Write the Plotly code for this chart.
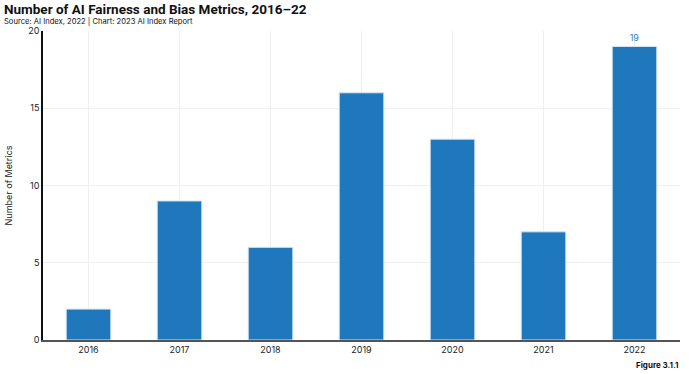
import plotly.graph_objects as go

years = ["2016", "2017", "2018", "2019", "2020", "2021", "2022"]
metrics = [2, 9, 6, 16, 13, 7, 19]
labels = ["", "", "", "", "", "", "19"]

FONT = "Inter, Roboto, sans-serif"

fig = go.Figure()
fig.add_trace(go.Bar(
    x=years, y=metrics, width=0.49,
    marker=dict(color="#1f77bc", line=dict(color="#d6e6f3", width=1)),
    text=labels, textposition="outside", cliponaxis=False,
    textfont=dict(color="#3b7bc4", size=9, family=FONT),
))

fig.update_layout(
    width=689, height=374,
    margin=dict(l=43, r=9, t=31, b=34),
    paper_bgcolor="white", plot_bgcolor="white",
    showlegend=False,
    font=dict(family=FONT, size=9, color="#222"),
    xaxis=dict(
        type="category", showgrid=True, gridcolor="#efefef", gridwidth=1,
        showline=True, linecolor="#555", linewidth=1.5,
        ticks="", tickfont=dict(size=9, color="#222"),
    ),
    yaxis=dict(
        range=[0, 20], dtick=5, showgrid=True, gridcolor="#efefef", gridwidth=1,
        showline=True, linecolor="#111", linewidth=1.5, zeroline=False,
        ticks="", tickfont=dict(size=9, color="#222"),
        title=dict(text="Number of Metrics", font=dict(size=9, color="#222"), standoff=14),
    ),
)

fig.add_annotation(text="<b>Number of AI Fairness and Bias Metrics, 2016–22</b>",
                   xref="paper", yref="paper", x=-41/637, y=1, yshift=22.5,
                   xanchor="left", yanchor="middle", showarrow=False,
                   font=dict(size=13.5, color="#111", family="Roboto, sans-serif"))
fig.add_annotation(text="Source: AI Index, 2022 | Chart: 2023 AI Index Report",
                   xref="paper", yref="paper", x=-41/637, y=1, yshift=10.5,
                   xanchor="left", yanchor="middle", showarrow=False,
                   font=dict(size=7.6, color="#111", family=FONT))
fig.add_annotation(text="<b>Figure 3.1.1</b>",
                   xref="paper", yref="paper", x=1, y=0, yshift=-18,
                   xanchor="right", yanchor="top", showarrow=False,
                   font=dict(size=8, color="#111", family=FONT))

fig.write_html("out.html", config={"displayModeBar": False},
               post_script="document.body.style.margin='0';document.body.style.overflow='hidden';")
